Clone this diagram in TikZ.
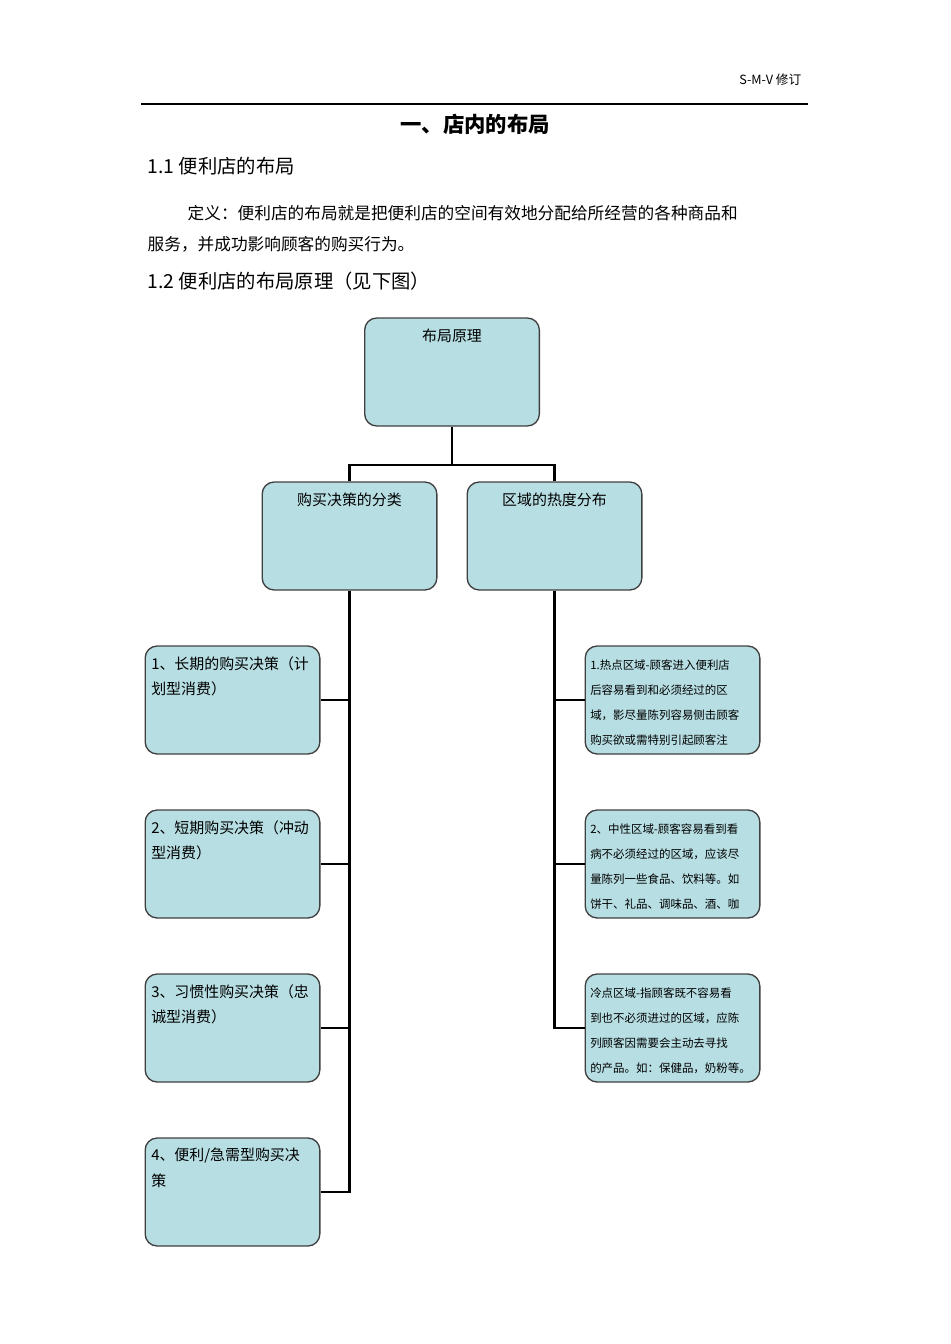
\documentclass[tikz,border=0pt]{standalone}
\usepackage{fontspec}
\setmainfont{Liberation Serif}
\newfontfamily\cjk{Noto Sans CJK SC}
\begin{document}
\begin{tikzpicture}[x=0.75pt,y=-0.75pt,
  boxa/.style={draw=black!75,line width=1pt,fill=boxfill,rounded corners=9pt,minimum width=131pt,minimum height=81pt,inner sep=0pt},
  lbl/.style={anchor=north west,align=left,inner sep=0pt,font=\cjk\fontsize{11.2}{19}\selectfont},
  sml/.style={anchor=north west,align=left,inner sep=0pt,font=\cjk\fontsize{8.6}{18.8}\selectfont},
  conn/.style={line width=2.2pt}]
\definecolor{boxfill}{HTML}{B7DEE3}
\useasboundingbox (0,0) rectangle (950,1344);
\node[anchor=east,font=\cjk\fontsize{9.5}{11}\selectfont] (hdr) at (806,80) {S-M-V 修订};
\draw[line width=0.8pt] (141,104) -- (808,104);
\node[font=\cjk\bfseries\fontsize{16}{18}\selectfont] (ttl) at (475,124) {一、店内的布局};
\node[anchor=west,font=\cjk\fontsize{14.5}{16}\selectfont] (h1) at (143,166) {1.1 便利店的布局};
\node[anchor=west,font=\cjk\fontsize{12.5}{14}\selectfont] (p1) at (183,213) {定义：便利店的布局就是把便利店的空间有效地分配给所经营的各种商品和};
\node[anchor=west,font=\cjk\fontsize{12.5}{14}\selectfont] (p2) at (143,244) {服务，并成功影响顾客的购买行为。};
\node[anchor=west,font=\cjk\fontsize{14.5}{16}\selectfont] (h2) at (143,281) {1.2 便利店的布局原理（见下图）};
% boxes
\node[boxa] (root) at (452,372) {};
\node[font=\cjk\fontsize{11.2}{13}\selectfont] (rootl) at (452,336) {布局原理};
\node[boxa] (bl) at (349.5,536) {};
\node[font=\cjk\fontsize{11.2}{13}\selectfont] (bll) at (349.5,500) {购买决策的分类};
\node[boxa] (br) at (554.5,536) {};
\node[font=\cjk\fontsize{11.2}{13}\selectfont] (brl) at (554.5,500) {区域的热度分布};
\foreach \i/\y in {1/700,2/864,3/1028,4/1192}{\node[boxa] (l\i) at (232.5,\y) {};}
\foreach \i/\y in {1/700,2/864,3/1028}{\node[boxa] (r\i) at (672.5,\y) {};}
\node[lbl] (l1t) at (151,656) {1、长期的购买决策（计\\划型消费）};
\node[lbl] (l2t) at (151,820) {2、短期购买决策（冲动\\型消费）};
\node[lbl] (l3t) at (151,984) {3、习惯性购买决策（忠\\诚型消费）};
\node[lbl] (l4t) at (151,1148) {4、便利/急需型购买决\\策};
\node[sml] (r1t) at (590,659) {1.热点区域-顾客进入便利店\\后容易看到和必须经过的区\\域，影尽量陈列容易侧击顾客\\购买欲或需特别引起顾客注};
\node[sml] (r2t) at (590,823) {2、中性区域-顾客容易看到看\\病不必须经过的区域，应该尽\\量陈列一些食品、饮料等。如\\饼干、礼品、调味品、酒、咖};
\node[sml] (r3t) at (590,987) {冷点区域-指顾客既不容易看\\到也不必须进过的区域，应陈\\列顾客因需要会主动去寻找\\的产品。如：保健品，奶粉等。};
% connectors
\coordinate (j) at (452,465);
\draw[conn] (root.south) -- (j);
\draw[conn] (bl.north) |- (j) -| (br.north);
\draw[conn] (bl.south) -- (349.5,1192) -- (l4.east);
\foreach \i/\y in {1/700,2/864,3/1028}{\draw[conn] (349.5,\y) -- (l\i.east);}
\draw[conn] (br.south) -- (554.5,1028) -- (r3.west);
\foreach \i/\y in {1/700,2/864}{\draw[conn] (554.5,\y) -- (r\i.west);}
\end{tikzpicture}
\end{document}
